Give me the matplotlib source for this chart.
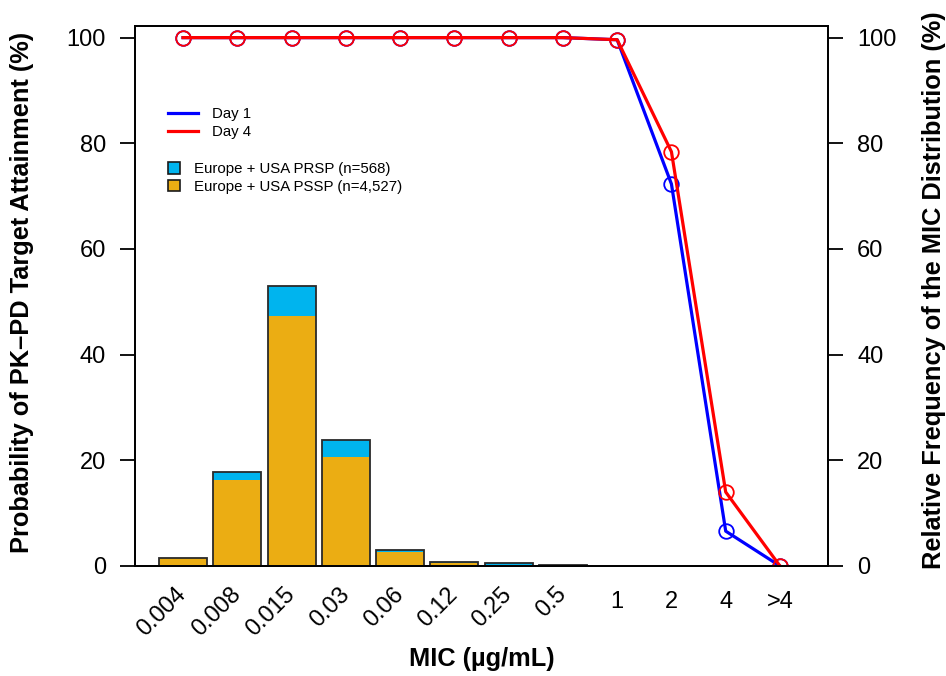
import matplotlib
matplotlib.use("Agg")
import matplotlib.pyplot as plt
from matplotlib.lines import Line2D
from matplotlib.patches import Patch
import numpy as np

plt.rcParams['font.family'] = ['Liberation Sans', 'DejaVu Sans']

mic_labels = ["0.004", "0.008", "0.015", "0.03", "0.06", "0.12", "0.25", "0.5", "1", "2", "4", ">4"]
day1 = [100, 100, 100, 100, 100, 100, 100, 100, 99.6, 72.3, 6.6, 0.0]
day4 = [100, 100, 100, 100, 100, 100, 100, 100, 99.6, 78.4, 14.0, 0.0]
pssp = [1.6, 16.3, 47.4, 20.7, 2.6, 0.5, 0.2, 0.05, 0.0, 0.0, 0.0, 0.0]
prsp = [0.0, 1.5, 5.6, 3.2, 0.5, 0.3, 0.3, 0.1, 0.05, 0.0, 0.0, 0.0]

BLUE = "#0000FF"
RED = "#FF0000"
ORANGE = "#EBAD13"
CYAN = "#00B4EE"

fig = plt.figure(figsize=(9.46, 6.76), dpi=100)
ax = fig.add_axes([135/946, 1 - 566/676, (828-135)/946, (566-26)/676])
ax2 = ax.twinx()

x = np.arange(len(mic_labels))
total = np.array(pssp) + np.array(prsp)
w = 0.885
ax.bar(x, pssp, width=w, color=ORANGE, edgecolor='none', zorder=2)
ax.bar(x, prsp, width=w, bottom=pssp, color=CYAN, edgecolor='none', zorder=2)
ax.bar(x, total, width=w, facecolor='none', edgecolor='#2a2a2a', linewidth=1.3, zorder=3)

ms = 10.5
ax.plot(x, day1, color=BLUE, lw=2.3, marker='o', ms=ms, mfc='none', mec=BLUE, mew=1.3, zorder=4)
ax.plot(x, day4, color=RED, lw=2.3, marker='o', ms=ms, mfc='none', mec=RED, mew=1.3, zorder=5)

ax.set_xlim(-0.885, len(mic_labels) - 1 + 0.885)
ax.set_ylim(0, 102.2)
ax2.set_ylim(0, 102.2)
yt = [0, 20, 40, 60, 80, 100]
ax.set_yticks(yt)
ax2.set_yticks(yt)
ax.tick_params(axis='y', direction='out', length=11, width=1.3, labelsize=17, pad=10)
ax2.tick_params(axis='y', direction='out', length=11, width=1.3, labelsize=17, pad=10)

ax.set_xticks(x)
ax.set_xticklabels(mic_labels)
ax.tick_params(axis='x', length=0, labelsize=17, pad=18)
for i, t in enumerate(ax.get_xticklabels()):
    if i < 8:
        t.set_rotation(45)
        t.set_ha('right')
        t.set_va('center')
        t.set_rotation_mode('anchor')

for a in (ax, ax2):
    for s in a.spines.values():
        s.set_linewidth(1.3)

ax.set_xlabel("MIC (µg/mL)", fontsize=18.3, fontweight='bold', va='center')
ax.xaxis.set_label_coords(0.5, (566-659)/540)
ax.set_ylabel("Probability of PK–PD Target Attainment (%)", fontsize=18.3, fontweight='bold', va='center')
ax.yaxis.set_label_coords((22-135)/693, (566-292)/540)
ax2.set_ylabel("Relative Frequency of the MIC Distribution (%)", fontsize=18.3, fontweight='bold', va='center', rotation=90)
ax2.yaxis.set_label_coords((934-135)/693, (566-290)/540)

h1 = [Line2D([], [], color=BLUE, lw=2.3), Line2D([], [], color=RED, lw=2.3)]
leg1 = ax.legend(h1, ["Day 1", "Day 4"], loc='upper left', bbox_to_anchor=((168-135)/693, (566-107)/540),
                 frameon=False, fontsize=10.8, handlelength=2.0, handletextpad=0.95, labelspacing=0.25,
                 borderpad=0, borderaxespad=0)
ax.add_artist(leg1)
h2 = [Patch(facecolor=CYAN, edgecolor='#1a1a1a', lw=1.2), Patch(facecolor=ORANGE, edgecolor='#1a1a1a', lw=1.2)]
ax.legend(h2, ["Europe + USA PRSP (n=568)", "Europe + USA PSSP (n=4,527)"], loc='upper left',
          bbox_to_anchor=((168-135)/693, (566-162)/540), frameon=False, fontsize=10.8,
          handlelength=0.8, handleheight=0.8, handletextpad=0.95, labelspacing=0.25,
          borderpad=0, borderaxespad=0)

fig.savefig("out.png", dpi=100)
